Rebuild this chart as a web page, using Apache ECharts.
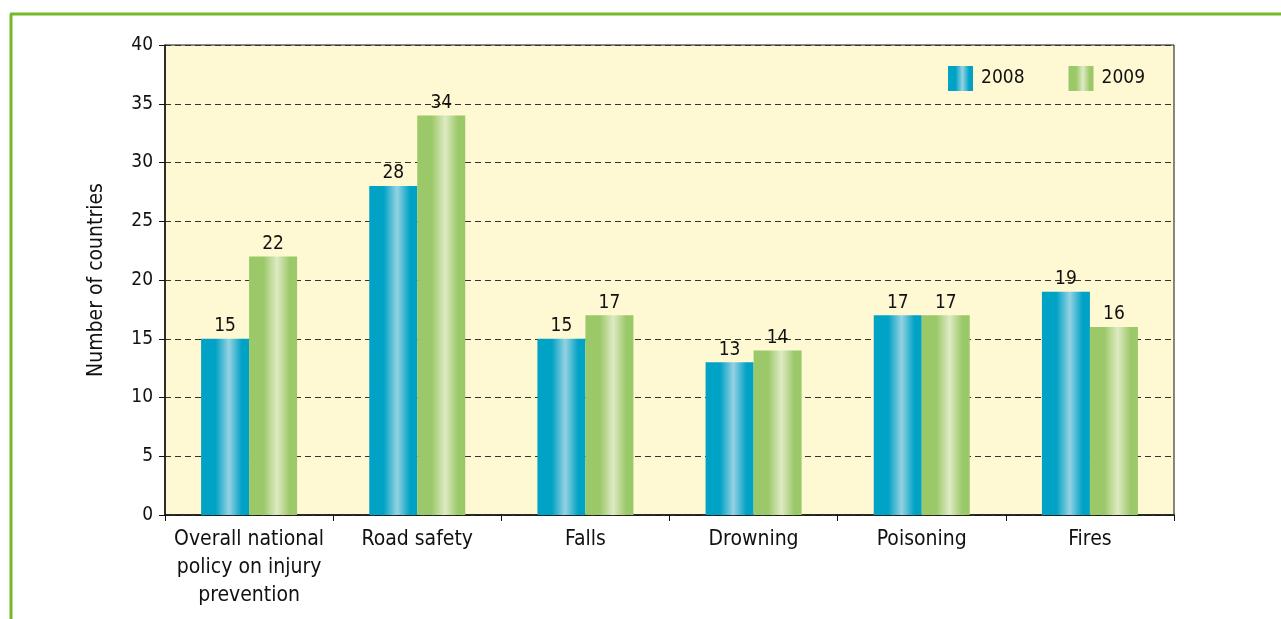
<!DOCTYPE html>
<html>
<head>
<meta charset="utf-8">
<script src="https://cdn.jsdelivr.net/npm/echarts@6/dist/echarts.min.js"></script>
<style>
	html, body { margin: 0; padding: 0; background: #fff; }
	#chart { width: 1281px; height: 619px; }
</style>
</head>
<body>
<div id="chart"></div>
<script>
// chart data
const categories = ['Overall national\npolicy on injury\nprevention', 'Road safety', 'Falls', 'Drowning', 'Poisoning', 'Fires']
const values2008 = [15, 28, 15, 13, 17, 19]
const values2009 = [22, 34, 17, 14, 17, 16]
const seriesNames = ['2008', '2009']

const FONT = '"Liberation Sans Narrow", "DejaVu Sans Condensed", sans-serif'

// horizontal "cylinder" gradient for each bar
const shade = (edge, mid) => new echarts.graphic.LinearGradient(0, 0, 1, 0, [
	{ offset: 0, color: edge },
	{ offset: 0.3, color: edge },
	{ offset: 0.58, color: mid },
	{ offset: 0.85, color: edge },
	{ offset: 1, color: edge }
])

const blue = shade('#00a2c6', '#95d2e2')
const green = shade('#9bc868', '#dfeac4')

const chart = echarts.init(document.getElementById('chart'))

const labelStyle = {
	show: true,
	position: 'top',
	distance: 3,
	color: '#111',
	fontSize: 19,
	fontFamily: FONT
}

const option = {
	animation: false,
	textStyle: { fontFamily: FONT },
	graphic: [
		// green frame around the figure
		{ type: 'line', shape: { x1: 10, y1: 14, x2: 1281, y2: 14 }, style: { stroke: '#76b82a', lineWidth: 3 } },
		{ type: 'line', shape: { x1: 11, y1: 14, x2: 11, y2: 619 }, style: { stroke: '#76b82a', lineWidth: 3 } }
	],
	legend: {
		data: seriesNames,
		icon: 'rect',
		right: 131,
		top: 61,
		itemWidth: 25,
		itemHeight: 25,
		itemGap: 44,
		textStyle: { color: '#111', fontSize: 19, fontFamily: FONT, padding: [0, 0, 0, 3] }
	},
	grid: {
		left: 165,
		right: 107,
		top: 45,
		bottom: 104,
		show: true,
		backgroundColor: '#fef8d3',
		borderColor: '#111',
		borderWidth: 1
	},
	xAxis: {
		type: 'category',
		data: categories,
		axisLine: { lineStyle: { color: '#111', width: 1.5 } },
		axisTick: { show: true, length: 6, lineStyle: { color: '#111' } },
		axisLabel: {
			color: '#111',
			fontSize: 21,
			fontFamily: FONT,
			margin: 11,
			lineHeight: 28,
			interval: 0
		}
	},
	yAxis: {
		type: 'value',
		min: 0,
		max: 40,
		interval: 5,
		name: 'Number of countries',
		nameLocation: 'middle',
		nameGap: 58,
		nameTextStyle: { color: '#111', fontSize: 21, fontFamily: FONT },
		axisLine: { show: true, lineStyle: { color: '#111', width: 1.5 } },
		axisTick: { show: true, length: 6, lineStyle: { color: '#111' } },
		axisLabel: { color: '#111', fontSize: 19, fontFamily: FONT, margin: 12 },
		splitLine: { lineStyle: { color: '#333', type: [6, 4], width: 1 } }
	},
	series: [
		{
			name: seriesNames[0],
			type: 'bar',
			data: values2008,
			barWidth: 48,
			barGap: '0%',
			itemStyle: { color: blue },
			label: labelStyle
		},
		{
			name: seriesNames[1],
			type: 'bar',
			data: values2009,
			barWidth: 48,
			itemStyle: { color: green },
			label: labelStyle
		}
	]
}

chart.setOption(option)
</script>
</body>
</html>
